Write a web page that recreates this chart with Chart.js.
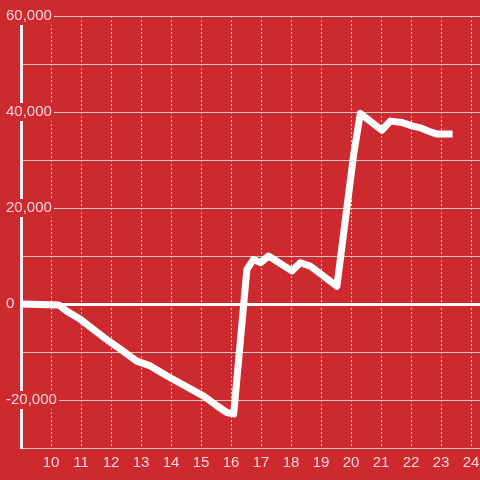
<!DOCTYPE html>
<html>
<head>
<meta charset="utf-8">
<script src="https://cdn.jsdelivr.net/npm/chart.js@4/dist/chart.umd.min.js"></script>
<style>
  html, body { margin: 0; padding: 0; background: #cc2a2f; }
  #chart { display: block; }
</style>
</head>
<body>
<canvas id="chart" width="480" height="480"></canvas>
<script>
// hour of day and running value
const hours = [9, 10.26, 10.53, 10.98, 11.42, 11.92, 12.31, 12.86, 13.31, 13.87, 14.31, 15.09, 15.53, 15.86, 16.09,
  16.53, 16.75, 16.98, 17.25, 18.03, 18.31, 18.64, 19.53, 20.09, 20.31, 21.03, 21.31, 21.7, 22.03, 22.31, 22.59, 22.87, 23.27];
const values = [0, -200, -1500, -3200, -5300, -7700, -9400, -11900, -12900, -15000, -16500, -19200, -21200, -22600, -22900,
  7200, 9300, 8600, 10000, 6900, 8600, 7900, 3700, 31200, 39700, 36200, 38100, 37800, 37100, 36700, 36000, 35400, 35400];

const xTicks = [10, 11, 12, 13, 14, 15, 16, 17, 18, 19, 20, 21, 22, 23, 24];
const yLabelled = [-20000, 0, 20000, 40000, 60000];

const BG = "#cc2a2f";
const LABEL = "#f3d6d7";

Chart.defaults.font.family = "'Liberation Sans', Arial, sans-serif";
Chart.defaults.font.size = 15;

const points = hours.map((h, i) => ({ x: h, y: values[i] }));

new Chart(document.getElementById("chart"), {
  type: "line",
  data: {
    datasets: [
      {
        data: points,
        borderColor: "#ffffff",
        borderWidth: 7,
        borderJoinStyle: "round",
        borderCapStyle: "square",
        pointRadius: 0,
        tension: 0,
      },
    ],
  },
  options: {
    responsive: false,
    animation: false,
    layout: { padding: { top: 16, right: 0, left: 0, bottom: 0 } },
    plugins: { legend: { display: false }, tooltip: { enabled: false } },
    scales: {
      x: {
        type: "linear",
        min: 9,
        max: 24.3,
        afterBuildTicks: (scale) => {
          scale.ticks = xTicks.map((v) => ({ value: v }));
        },
        afterFit: (scale) => {
          scale.height = 32;
          scale.paddingLeft = 0;
          scale.paddingRight = 0;
        },
        grid: {
          color: "#e8d6d6",
          lineWidth: 1,
          drawTicks: false,
        },
        // border.dash styles the vertical grid lines (dotted)
        border: { display: false, dash: [2, 2] },
        ticks: {
          color: LABEL,
          padding: 6,
          maxRotation: 0,
          autoSkip: false,
        },
      },
      y: {
        min: -30000,
        max: 60000,
        afterFit: (scale) => {
          scale.width = 21;
          scale.paddingTop = 0;
          scale.paddingBottom = 0;
        },
        grid: {
          color: (ctx) => (ctx.tick && ctx.tick.value === 0 ? "#ffffff" : "#d2c6c6"),
          lineWidth: (ctx) => (ctx.tick && ctx.tick.value === 0 ? 3 : 1),
          drawTicks: false,
        },
        border: { display: true, color: "#f4efef", width: 3 },
        ticks: {
          stepSize: 10000,
          mirror: true,
          padding: -15,
          color: LABEL,
          callback: (v) => (yLabelled.includes(v) ? v.toLocaleString("en-US") : ""),
          showLabelBackdrop: (ctx) => yLabelled.includes(ctx.tick.value),
          backdropColor: BG,
          backdropPadding: { top: 0, bottom: 0, left: 2, right: 2 },
        },
      },
    },
  },
});
</script>
</body>
</html>
